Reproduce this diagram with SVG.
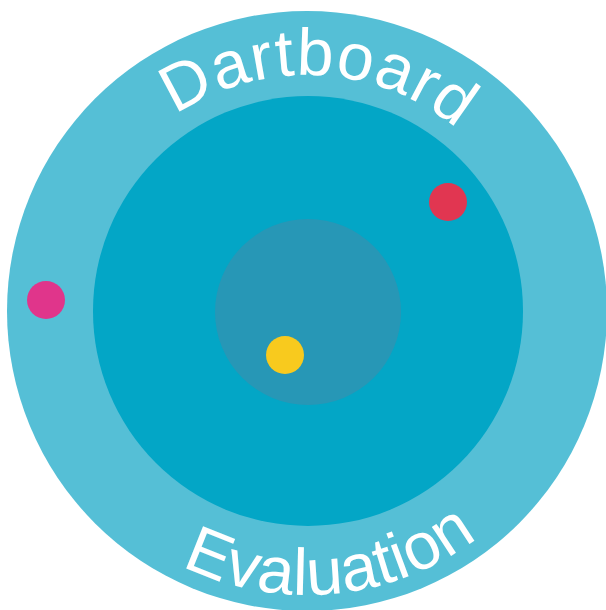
<svg xmlns="http://www.w3.org/2000/svg" width="606" height="610" viewBox="0 0 606 610">
<style>
.lbl{font-family:"Liberation Sans",Arial,sans-serif;fill:#ffffff;font-size:66px;}
</style>
<defs>
<path id="topArc" d="M 71,311 A 236 236 0 0 1 543,311"/>
<path id="botArc" d="M 23,311 A 284 284 0 0 0 591,311"/>
</defs>
<g id="outer-ring"><circle cx="307" cy="311" r="300" fill="#55BFD6"/></g>
<g id="middle-ring"><circle cx="308" cy="311" r="215" fill="#03A6C6"/></g>
<g id="bullseye"><circle cx="308" cy="312" r="93" fill="#2797B6"/></g>
<g id="dart-red"><circle cx="448" cy="202" r="19" fill="#E13651"/></g>
<g id="dart-pink"><circle cx="46" cy="300" r="19" fill="#E0358B"/></g>
<g id="dart-yellow"><circle cx="285" cy="355" r="19" fill="#F8CA1E"/></g>
<g id="labels">
<text class="lbl" text-anchor="middle" letter-spacing="1"><textPath href="#topArc" startOffset="51.6%">Dartboard</textPath></text>
<text class="lbl" text-anchor="middle" letter-spacing="0.5"><textPath href="#botArc" startOffset="53%">Evaluation</textPath></text>
</g>
<g id="connectors"/>
</svg>
